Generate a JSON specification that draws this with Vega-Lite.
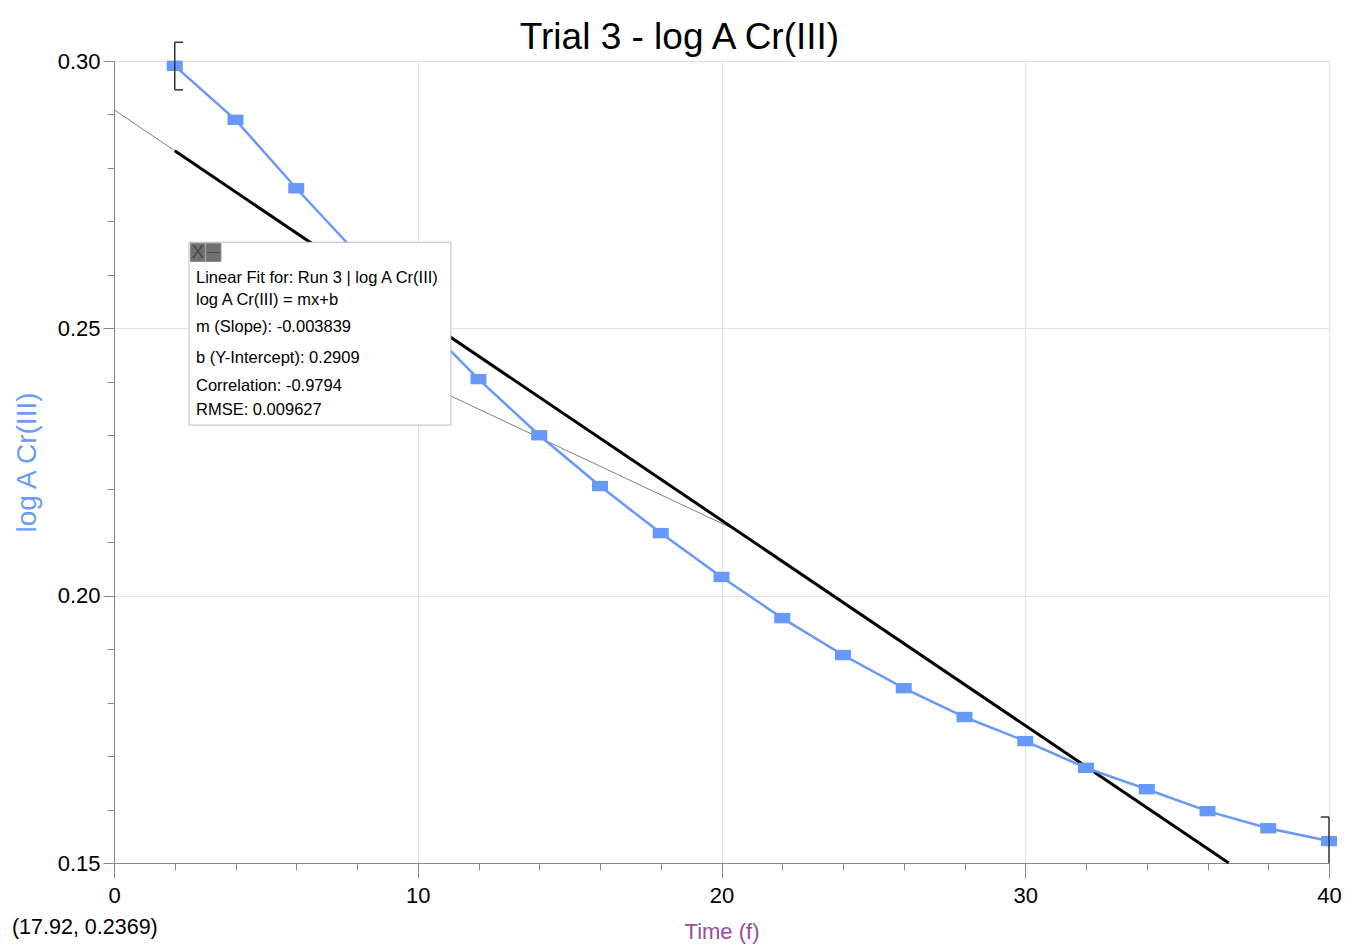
{
  "$schema": "https://vega.github.io/schema/vega-lite/v6.json",
  "width": 1215,
  "height": 802,
  "autosize": "none",
  "padding": {"left": 114, "top": 61, "right": 16, "bottom": 84},
  "background": "white",
  "title": {"text": "Trial 3 - log A Cr(III)", "font": "Liberation Sans", "fontSize": 37, "fontWeight": "normal", "color": "black", "anchor": "middle", "dx": -42, "offset": -15},
  "config": {
    "view": {"stroke": null},
    "axis": {"labelFont": "Liberation Sans", "labelFontSize": 22, "labelColor": "black", "titleFont": "Liberation Sans", "titleFontWeight": "normal", "domainColor": "#888888", "tickColor": "#888888", "gridColor": "#e2e2e2", "gridWidth": 1, "labelFlush": false}
  },
  "datasets": {
    "points": [
      {"time": 2, "logA": 0.2991},
      {"time": 4, "logA": 0.2890},
      {"time": 6, "logA": 0.2762},
      {"time": 8, "logA": 0.2640},
      {"time": 10, "logA": 0.2520},
      {"time": 12, "logA": 0.2405},
      {"time": 14, "logA": 0.2300},
      {"time": 16, "logA": 0.2205},
      {"time": 18, "logA": 0.2117},
      {"time": 20, "logA": 0.2035},
      {"time": 22, "logA": 0.1958},
      {"time": 24, "logA": 0.1889},
      {"time": 26, "logA": 0.1827},
      {"time": 28, "logA": 0.1773},
      {"time": 30, "logA": 0.1728},
      {"time": 32, "logA": 0.1678},
      {"time": 34, "logA": 0.1638},
      {"time": 36, "logA": 0.1597},
      {"time": 38, "logA": 0.1565},
      {"time": 40, "logA": 0.1541}
    ],
    "fit": [
      {"time": 2, "logA": 0.2832},
      {"time": 36.70, "logA": 0.1500}
    ],
    "thin": [
      {"seg": "a", "time": 0, "logA": 0.2909},
      {"seg": "a", "time": 2, "logA": 0.2832},
      {"seg": "b", "time": 6.5, "logA": 0.2496},
      {"seg": "b", "time": 20.61, "logA": 0.2119}
    ]
  },
  "layer": [
    {
      "data": {"name": "thin"},
      "mark": {"type": "line", "color": "#808080", "strokeWidth": 1},
      "encoding": {
        "x": {"field": "time", "type": "quantitative", "scale": {"domain": [0, 40], "nice": false},
          "axis": {"title": "Time (f)", "titleColor": "#9A4F98", "titleFontSize": 22, "titlePadding": 15,
            "values": [0,2,4,6,8,10,12,14,16,18,20,22,24,26,28,30,32,34,36,38,40],
            "labelExpr": "datum.value % 10 === 0 ? datum.label : ''",
            "labelPadding": 7,
            "tickSize": {"condition": {"test": "datum.value % 10 === 0", "value": 15}, "value": 7},
            "gridOpacity": {"condition": {"test": "datum.value % 10 === 0", "value": 1}, "value": 0},
            "grid": true}},
        "y": {"field": "logA", "type": "quantitative", "scale": {"domain": [0.15, 0.30], "nice": false, "zero": false},
          "axis": {"title": "log A Cr(III)", "titleColor": "#6A9CF5", "titleFont": "Liberation Sans", "titleFontSize": 28, "titlePadding": 16,
            "values": [0.15,0.16,0.17,0.18,0.19,0.20,0.21,0.22,0.23,0.24,0.25,0.26,0.27,0.28,0.29,0.30],
            "labelExpr": "round(datum.value*100) % 5 === 0 ? format(datum.value, '.2f') : ''",
            "labelPadding": 3,
            "tickSize": {"condition": {"test": "round(datum.value*100) % 5 === 0", "value": 11}, "value": 7},
            "gridOpacity": {"condition": {"test": "round(datum.value*100) % 5 === 0", "value": 1}, "value": 0},
            "grid": true}},
        "detail": {"field": "seg", "type": "nominal"}
      }
    },
    {
      "data": {"name": "fit"},
      "mark": {"type": "line", "color": "black", "strokeWidth": 3},
      "encoding": {
        "x": {"field": "time", "type": "quantitative"},
        "y": {"field": "logA", "type": "quantitative"}
      }
    },
    {
      "data": {"name": "points"},
      "mark": {"type": "line", "color": "#6699FA", "strokeWidth": 2.5},
      "encoding": {
        "x": {"field": "time", "type": "quantitative"},
        "y": {"field": "logA", "type": "quantitative"}
      }
    },
    {
      "data": {"name": "points"},
      "mark": {"type": "point", "shape": "M-1,-0.65H1V0.65H-1Z", "size": 256, "filled": true, "color": "#6699FA", "opacity": 1},
      "encoding": {
        "x": {"field": "time", "type": "quantitative"},
        "y": {"field": "logA", "type": "quantitative"}
      }
    },
    {
      "data": {"values": [{}]},
      "mark": {"type": "rect", "fill": "white", "stroke": "#bdbdbd", "strokeWidth": 1},
      "encoding": {
        "x": {"datum": 2.47, "type": "quantitative"},
        "x2": {"datum": 11.09},
        "y": {"datum": 0.2661, "type": "quantitative"},
        "y2": {"datum": 0.2319}
      }
    },
    {
      "data": {"values": [{}]},
      "mark": {"type": "rect", "fill": "#707070", "stroke": "#8a8a8a", "strokeWidth": 1},
      "encoding": {
        "x": {"datum": 2.52, "type": "quantitative"},
        "x2": {"datum": 3.0},
        "y": {"datum": 0.2659, "type": "quantitative"},
        "y2": {"datum": 0.2625}
      }
    },
    {
      "data": {"values": [{}]},
      "mark": {"type": "rect", "fill": "#707070", "stroke": "#8a8a8a", "strokeWidth": 1},
      "encoding": {
        "x": {"datum": 3.03, "type": "quantitative"},
        "x2": {"datum": 3.52},
        "y": {"datum": 0.2659, "type": "quantitative"},
        "y2": {"datum": 0.2625}
      }
    },
    {
      "data": {"values": [{}]},
      "mark": {"type": "text", "text": "X", "font": "Liberation Sans", "fontSize": 19, "color": "#4a4a4a", "align": "center", "baseline": "middle"},
      "encoding": {"x": {"datum": 2.76, "type": "quantitative"}, "y": {"datum": 0.2642, "type": "quantitative"}}
    },
    {
      "data": {"values": [{}]},
      "mark": {"type": "text", "text": "—", "font": "Liberation Sans", "fontSize": 13, "color": "#4a4a4a", "align": "center", "baseline": "middle"},
      "encoding": {"x": {"datum": 3.275, "type": "quantitative"}, "y": {"datum": 0.2642, "type": "quantitative"}}
    },
    {
      "data": {"values": [{}]},
      "mark": {"type": "text", "text": "Linear Fit for: Run 3 | log A Cr(III)", "font": "Liberation Sans", "fontSize": 16.5, "color": "black", "align": "left", "baseline": "middle"},
      "encoding": {"x": {"datum": 2.70, "type": "quantitative"}, "y": {"datum": 0.25941, "type": "quantitative"}}
    },
    {
      "data": {"values": [{}]},
      "mark": {"type": "text", "text": "log A Cr(III) = mx+b", "font": "Liberation Sans", "fontSize": 16.5, "color": "black", "align": "left", "baseline": "middle"},
      "encoding": {"x": {"datum": 2.70, "type": "quantitative"}, "y": {"datum": 0.25530, "type": "quantitative"}}
    },
    {
      "data": {"values": [{}]},
      "mark": {"type": "text", "text": "m (Slope): -0.003839", "font": "Liberation Sans", "fontSize": 16.5, "color": "black", "align": "left", "baseline": "middle"},
      "encoding": {"x": {"datum": 2.70, "type": "quantitative"}, "y": {"datum": 0.25025, "type": "quantitative"}}
    },
    {
      "data": {"values": [{}]},
      "mark": {"type": "text", "text": "b (Y-Intercept): 0.2909", "font": "Liberation Sans", "fontSize": 16.5, "color": "black", "align": "left", "baseline": "middle"},
      "encoding": {"x": {"datum": 2.70, "type": "quantitative"}, "y": {"datum": 0.24445, "type": "quantitative"}}
    },
    {
      "data": {"values": [{}]},
      "mark": {"type": "text", "text": "Correlation: -0.9794", "font": "Liberation Sans", "fontSize": 16.5, "color": "black", "align": "left", "baseline": "middle"},
      "encoding": {"x": {"datum": 2.70, "type": "quantitative"}, "y": {"datum": 0.23922, "type": "quantitative"}}
    },
    {
      "data": {"values": [{}]},
      "mark": {"type": "text", "text": "RMSE: 0.009627", "font": "Liberation Sans", "fontSize": 16.5, "color": "black", "align": "left", "baseline": "middle"},
      "encoding": {"x": {"datum": 2.70, "type": "quantitative"}, "y": {"datum": 0.23473, "type": "quantitative"}}
    },
    {
      "data": {"values": [{}]},
      "mark": {"type": "rule", "color": "#333333", "strokeWidth": 1.5},
      "encoding": {"x": {"datum": 2, "type": "quantitative"}, "y": {"datum": 0.3035, "type": "quantitative"}, "y2": {"datum": 0.2946}}
    },
    {
      "data": {"values": [{}]},
      "mark": {"type": "rule", "color": "#333333", "strokeWidth": 1.5},
      "encoding": {"x": {"datum": 2, "type": "quantitative"}, "x2": {"datum": 2.27}, "y": {"datum": 0.3035, "type": "quantitative"}}
    },
    {
      "data": {"values": [{}]},
      "mark": {"type": "rule", "color": "#333333", "strokeWidth": 1.5},
      "encoding": {"x": {"datum": 2, "type": "quantitative"}, "x2": {"datum": 2.27}, "y": {"datum": 0.2946, "type": "quantitative"}}
    },
    {
      "data": {"values": [{}]},
      "mark": {"type": "rule", "color": "#333333", "strokeWidth": 1.5},
      "encoding": {"x": {"datum": 40, "type": "quantitative"}, "y": {"datum": 0.1586, "type": "quantitative"}, "y2": {"datum": 0.1500}}
    },
    {
      "data": {"values": [{}]},
      "mark": {"type": "rule", "color": "#333333", "strokeWidth": 1.5},
      "encoding": {"x": {"datum": 39.73, "type": "quantitative"}, "x2": {"datum": 40}, "y": {"datum": 0.1586, "type": "quantitative"}}
    },
    {
      "data": {"values": [{}]},
      "mark": {"type": "text", "text": "(17.92, 0.2369)", "font": "Liberation Sans", "fontSize": 21.5, "color": "black", "align": "left", "baseline": "middle"},
      "encoding": {"x": {"datum": -3.36, "type": "quantitative"}, "y": {"datum": 0.1378, "type": "quantitative"}}
    }
  ]
}
